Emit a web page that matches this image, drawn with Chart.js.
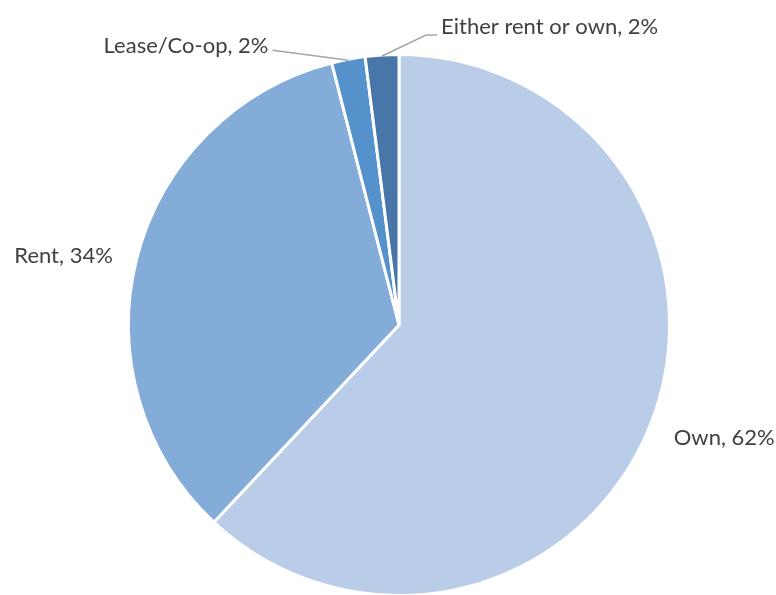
<!DOCTYPE html>
<html lang="en">
<head>
    <meta charset="UTF-8">
    <title>Housing Preference</title>
    <script src="https://cdn.jsdelivr.net/npm/chart.js"></script>
    <style>
        body { margin: 0; overflow: hidden; background: #fff; }
    </style>
</head>
<body>
    <canvas id="pieChart" width="776" height="600"></canvas>
    <script>
        const categories = ['Own', 'Rent', 'Lease/Co-op', 'Either rent or own'];
        const shares = [62, 34, 2, 2];
        const sliceColors = ['#b9cde8', '#84acd9', '#5591cb', '#4876a9'];

        // label placement: big slices get the label just outside the rim,
        // the thin ones get a leader line
        const labelPlugin = {
            id: 'sliceLabels',
            afterDatasetsDraw(chart) {
                const c = chart.ctx;
                const arcs = chart.getDatasetMeta(0).data;
                c.save();
                c.font = '22px Lato, "Open Sans", sans-serif';
                c.fillStyle = '#404040';
                c.textBaseline = 'middle';
                arcs.forEach((arc, i) => {
                    const text = categories[i] + ', ' + shares[i] + '%';
                    const mid = (arc.startAngle + arc.endAngle) / 2;
                    const cos = Math.cos(mid), sin = Math.sin(mid);
                    if (shares[i] > 5) {
                        const r = arc.outerRadius + 25;
                        c.textAlign = cos >= 0 ? 'left' : 'right';
                        c.fillText(text, arc.x + cos * r, arc.y + sin * r + 4);
                    } else {
                        const ex = arc.x + cos * (arc.outerRadius - 1);
                        const ey = arc.y + sin * (arc.outerRadius - 1);
                        c.strokeStyle = '#a6a6a6';
                        c.lineWidth = 1.5;
                        c.beginPath();
                        c.moveTo(ex, ey);
                        if (i === 2) {
                            c.lineTo(ex - 76, ey - 10);
                            c.stroke();
                            c.textAlign = 'right';
                            c.fillText(text, ex - 80, ey - 14);
                        } else {
                            c.lineTo(ex + 44, ey - 21);
                            c.lineTo(ex + 55, ey - 21);
                            c.stroke();
                            c.textAlign = 'left';
                            c.fillText(text, ex + 59, ey - 29);
                        }
                    }
                });
                c.restore();
            }
        };

        new Chart(document.getElementById('pieChart'), {
            type: 'pie',
            data: {
                labels: categories,
                datasets: [{
                    data: shares,
                    backgroundColor: sliceColors,
                    borderColor: '#ffffff',
                    borderWidth: 3
                }]
            },
            options: {
                responsive: false,
                animation: false,
                layout: { padding: { top: 53, bottom: 3, left: 127, right: 105 } },
                plugins: {
                    legend: { display: false },
                    tooltip: { enabled: false }
                }
            },
            plugins: [labelPlugin]
        });
    </script>
</body>
</html>
